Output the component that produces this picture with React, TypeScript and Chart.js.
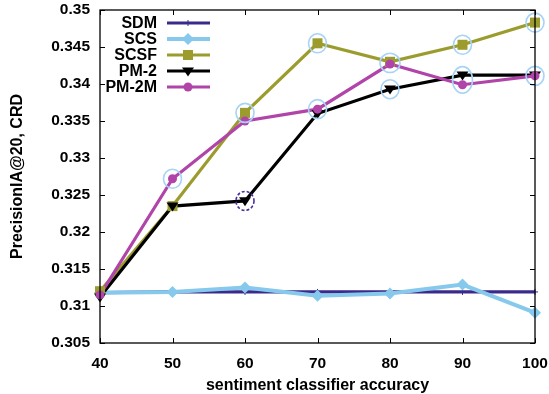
import React, { useEffect, useRef } from 'react';
import { Chart, registerables } from 'chart.js';
Chart.register(...registerables);

const accuracy = [40, 50, 60, 70, 80, 90, 100];
const sdm = [0.3118, 0.3119, 0.3119, 0.3119, 0.3119, 0.3119, 0.3119];
const scs = [0.3118, 0.3119, 0.3125, 0.3114, 0.3117, 0.3129, 0.3091];
const scsf = [0.312, 0.3235, 0.3361, 0.3455, 0.343, 0.3453, 0.3483];
const pm2 = [0.3112, 0.3235, 0.3242, 0.336, 0.3393, 0.3412, 0.3412];
const pm2m = [0.3115, 0.3272, 0.335, 0.3366, 0.3427, 0.3399, 0.3411];
const seriesNames = ['SDM', 'SCS', 'SCSF', 'PM-2', 'PM-2M'];
const seriesColors = ['#3a2a8c', '#86c9ec', '#9c9c2e', '#000000', '#b044a8'];
// highlighted points: [series indices (centre = mean), x index, dashed]
const highlights: [number[], number, boolean][] = [
  [[4], 1, false],
  [[2], 2, false],
  [[3], 2, true],
  [[2], 3, false],
  [[4], 3, false],
  [[2, 4], 4, false],
  [[3], 4, false],
  [[2], 5, false],
  [[3, 4], 5, false],
  [[2], 6, false],
  [[4], 6, false],
];

const allSeries = [sdm, scs, scsf, pm2, pm2m];
const FONT = '"Liberation Sans", Arial, sans-serif';

function drawMarker(ctx: CanvasRenderingContext2D, idx: number, x: number, y: number) {
  ctx.save();
  ctx.fillStyle = seriesColors[idx];
  ctx.strokeStyle = seriesColors[idx];
  ctx.beginPath();
  if (idx === 0) {
    ctx.lineWidth = 1;
    ctx.moveTo(x - 3, y); ctx.lineTo(x + 3, y);
    ctx.moveTo(x, y - 3); ctx.lineTo(x, y + 3);
    ctx.stroke();
  } else if (idx === 1) {
    const r = 6;
    ctx.moveTo(x, y - r); ctx.lineTo(x + r, y); ctx.lineTo(x, y + r); ctx.lineTo(x - r, y);
    ctx.closePath(); ctx.fill();
  } else if (idx === 2) {
    const r = 5;
    ctx.rect(x - r, y - r, 2 * r, 2 * r); ctx.fill();
  } else if (idx === 3) {
    const r = 6;
    ctx.moveTo(x - r, y - r * 0.6); ctx.lineTo(x + r, y - r * 0.6); ctx.lineTo(x, y + r * 0.9);
    ctx.closePath(); ctx.fill();
  } else {
    ctx.arc(x, y, 4.5, 0, Math.PI * 2); ctx.fill();
  }
  ctx.restore();
}

const decorPlugin = {
  id: 'decor',
  afterDatasetsDraw(chart: any) {
    const ctx: CanvasRenderingContext2D = chart.ctx;
    const xs = chart.scales.x;
    const ys = chart.scales.y;
    for (let s = 0; s < allSeries.length; s++) {
      allSeries[s].forEach((v, i) => drawMarker(ctx, s, xs.getPixelForValue(accuracy[i]), ys.getPixelForValue(v)));
    }
    highlights.forEach(([ser, xi, dashed]) => {
      const cx = xs.getPixelForValue(accuracy[xi]);
      const vals = ser.map((s) => ys.getPixelForValue(allSeries[s][xi]));
      const cy = vals.reduce((a, b) => a + b, 0) / vals.length;
      const spread = Math.max(...vals) - Math.min(...vals);
      ctx.save();
      ctx.beginPath();
      ctx.ellipse(cx, cy, ser.length > 1 ? 10 : 9, ser.length > 1 ? 8.5 + spread / 2 : 9.5, 0, 0, Math.PI * 2);
      if (dashed) {
        ctx.setLineDash([3, 2]);
        ctx.strokeStyle = '#4a2f9e';
      } else {
        ctx.strokeStyle = '#a6d3f6';
      }
      ctx.lineWidth = 1.6;
      ctx.stroke();
      ctx.restore();
    });
    const { left, right, top, bottom } = chart.chartArea;
    ctx.save();
    ctx.strokeStyle = '#000';
    ctx.lineWidth = 1.3;
    ctx.strokeRect(left, top, right - left, bottom - top);
    ctx.lineWidth = 1;
    xs.ticks.forEach((t: any) => {
      const px = Math.round(xs.getPixelForValue(t.value)) + 0.5;
      ctx.beginPath();
      ctx.moveTo(px, bottom); ctx.lineTo(px, bottom - 5);
      ctx.moveTo(px, top); ctx.lineTo(px, top + 5);
      ctx.stroke();
    });
    ys.ticks.forEach((t: any) => {
      const py = Math.round(ys.getPixelForValue(t.value)) + 0.5;
      ctx.beginPath();
      ctx.moveTo(left, py); ctx.lineTo(left + 5, py);
      ctx.moveTo(right, py); ctx.lineTo(right - 5, py);
      ctx.stroke();
    });
    // legend
    ctx.font = `bold 16px ${FONT}`;
    ctx.textAlign = 'right';
    ctx.textBaseline = 'middle';
    seriesNames.forEach((name, i) => {
      const y = top + 13 + i * 16;
      ctx.fillStyle = '#000';
      ctx.fillText(name, left + 57, y + 1);
      ctx.strokeStyle = seriesColors[i];
      ctx.lineWidth = i === 1 ? 4 : 3.2;
      ctx.beginPath();
      ctx.moveTo(left + 67, y); ctx.lineTo(left + 110, y);
      ctx.stroke();
      drawMarker(ctx, i, left + 88, y);
    });
    // titles
    ctx.fillStyle = '#000';
    ctx.font = `bold 16px ${FONT}`;
    ctx.textAlign = 'center';
    ctx.fillText('sentiment classifier accuracy', (left + right) / 2, 386);
    ctx.translate(18, (top + bottom) / 2);
    ctx.rotate(-Math.PI / 2);
    ctx.fillText('PrecisionIA@20, CRD', 0, 0);
    ctx.restore();
  },
};

export default function App() {
  const ref = useRef<HTMLCanvasElement>(null);
  useEffect(() => {
    document.body.style.margin = '0';
    const chart = new Chart(ref.current!, {
      type: 'line',
      data: {
        datasets: allSeries.map((vals, s) => ({
          label: seriesNames[s],
          data: vals.map((v, i) => ({ x: accuracy[i], y: v })),
          borderColor: seriesColors[s],
          backgroundColor: seriesColors[s],
          borderWidth: s === 1 ? 4 : 3.2,
          pointRadius: 0,
          tension: 0,
          fill: false,
          order: 5 - s,
        })),
      },
      options: {
        responsive: false,
        animation: false,
        layout: { padding: { top: 10, right: 14, left: 0, bottom: 0 } },
        plugins: { legend: { display: false }, tooltip: { enabled: false } },
        scales: {
          x: {
            type: 'linear',
            min: 40,
            max: 100,
            grid: { display: false, drawTicks: false },
            border: { display: false },
            ticks: { stepSize: 10, padding: 11, color: '#000', maxRotation: 0, font: { family: FONT, size: 15.5, weight: 'bold' } },
            afterFit: (sc: any) => { sc.height = 51; sc.paddingLeft = 0; sc.paddingRight = 0; },
          },
          y: {
            type: 'linear',
            min: 0.305,
            max: 0.35,
            grid: { display: false, drawTicks: false },
            border: { display: false },
            ticks: {
              stepSize: 0.005,
              padding: 10,
              color: '#000',
              font: { family: FONT, size: 15.5, weight: 'bold' },
              callback: (v: any) => String(Number(Number(v).toFixed(3))),
            },
            afterFit: (sc: any) => { sc.width = 100; sc.paddingTop = 0; sc.paddingBottom = 0; },
          },
        },
      },
      plugins: [decorPlugin],
    } as any);
    return () => chart.destroy();
  }, []);
  return (
    <div style={{ position: 'fixed', left: 0, top: 0, width: 549, height: 394 }}>
      <canvas ref={ref} width={549} height={394} />
    </div>
  );
}
